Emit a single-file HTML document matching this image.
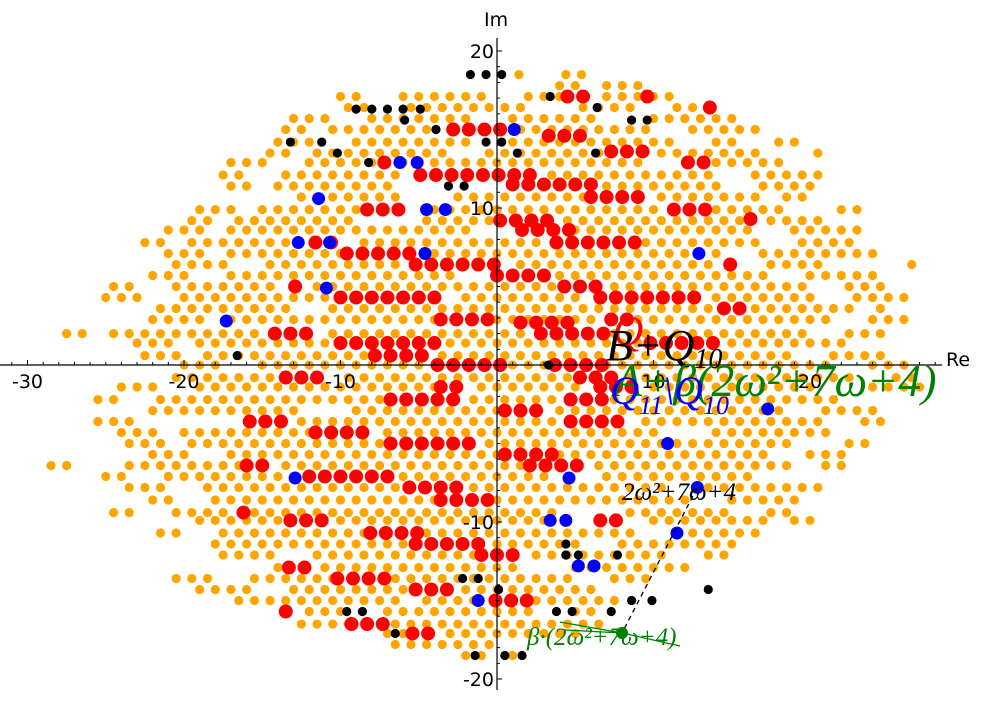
<!DOCTYPE html>
<html><head><meta charset="utf-8"><style>
html,body{margin:0;padding:0;background:#fff;}
svg{display:block;font-family:"DejaVu Sans","Liberation Sans",sans-serif;}
</style></head><body>
<svg id="chart" width="986" height="701" viewBox="0 0 986 701" style="position:absolute;left:0;top:0">
<g id="orange"></g>
<g id="red"></g>
<g id="blue"></g>
<g id="black"></g>
<g id="axes"></g>
</svg>
<script>
// orange row segments: [y, xmin, xmax]
const orangeRows=[
[18.5,1.4,1.4],[18.5,4.4,5.4],
[17.8,4,5],[17.8,7,9],
[17.1,-10,-9],[17.1,-6,-1],[17.1,2,4],[17.1,7,11],
[16.4,-9.5,-8.5],[16.4,-5.5,1.5],[16.4,5.5,8.5],[16.4,11.5,12.5],
[15.7,-13,-11],[15.7,-8,-2],[15.7,1,6],[15.7,10,15],
[15,-13.5,-12.5],[15,-10.5,-4.5],[15,1.5,9.5],[15,12.5,16.5],
[14.2,-14,-12],[14.2,-9,-2],[14.2,1,11],[14.2,14,15],[14.2,18,19],
[13.5,-14.5,-13.5],[13.5,-11.5,-3.5],[13.5,-0.5,6.5],[13.5,10.5,16.5],[13.5,20.5,20.5],
[12.9,-17,-15],[12.9,-12,-8],[12.9,-6,9],[12.9,14,18],
[12.1,-17.5,-16.5],[12.1,-13.5,-6.5],[12.1,3.5,13.5],[12.1,16.5,20.5],
[11.4,-17,-16],[11.4,-14,-7],[11.4,7,14],[11.4,17,20],
[10.7,-12.5,-6.5],[10.7,-2.5,5.5],[10.7,10.5,16.5],[10.7,18.5,19.5],
[9.9,-19,-17],[9.9,-15,-9],[9.9,-4,10],[9.9,14,18],[9.9,22,23],
[9.2,-19.5,-18.5],[9.2,-16.5,-9.5],[9.2,-4.5,-0.5],[9.2,4.5,15.5],[9.2,17.5,21],
[8.6,-21,-19],[8.6,-17,-2],[8.6,5,16],[8.6,19,23],
[7.8,-22.5,-21.5],[7.8,-19.5,-13.5],[7.8,-8.5,2.5],[7.8,9.5,16.5],[7.8,19.5,23],
[7.1,-21,-19],[7.1,-17,-10],[7.1,-4,14],[7.1,17,24],
[6.4,-20.5,-17.5],[6.4,-14.5,-6.5],[6.4,1.5,13.5],[6.4,17.5,20.5],[6.4,26.5,27],
[5.7,-22,-20],[5.7,-17,-3],[5.7,4,17],[5.7,20,24],
[5,-24.5,-23.5],[5,-20.5,-14.5],[5,-11.5,3.5],[5,7.5,19.5],[5,22.5,25],
[4.3,-25,-23],[4.3,-20,-11],[4.3,-2,5],[4.3,14,20],[4.3,23,26],
[3.6,-21.5,-13.5],[3.6,-10.5,13.5],[3.6,16.5,22.5],[3.6,24.5,25],
[2.9,-22,-19],[2.9,-17,-4],[2.9,0,6],[2.9,9,21],[2.9,24,26],
[2,-27.5,-26.5],[2,-24.5,-15.5],[2,-10.5,1.5],[2,7.5,19.5],[2,22.5,25],
[1.4,-23,-21],[1.4,-19,-11],[1.4,-3,9],[1.4,15,22],
[0.6,-22.5,-20.5],[0.6,-18.5,-8.5],[0.6,-3.5,18.5],[0.6,21.5,25],
[0,-20,-18],[0,-15,-5],[0,1,3],[0,7,21],[0,24,26],
[-0.8,-20.5,-14.5],[-0.8,-9.5,4.5],[-0.8,8.5,22.5],[-0.8,25.5,27],
[-1.4,-24,-22],[-1.4,-19,-4],[-1.4,-1,5],[-1.4,10,20],[-1.4,24,27],
[-2.2,-25.5,-24.5],[-2.2,-21.5,-7.5],[-2.2,-1.5,3.5],[-2.2,7.5,21.5],
[-2.9,-22,-13],[-2.9,-9,0],[-2.9,4,18],[-2.9,21,24],
[-3.6,-25.5,-23.5],[-3.6,-12.5,3.5],[-3.6,9.5,20.5],[-3.6,23.5,25],
[-4.3,-24,-22],[-4.3,-20,-12],[-4.3,-7,10],[-4.3,14,21],
[-5,-23.5,-21.5],[-5,-19.5,-7.5],[-5,-0.5,18.5],[-5,22.5,24],
[-5.7,-22,-20],[-5.7,-17,0],[-5.7,4,17],[-5.7,20,22],
[-6.4,-28.5,-27.5],[-6.4,-23.5,-16.5],[-6.4,-13.5,1.5],[-6.4,6.5,18.5],[-6.4,21,22],
[-7.1,-25,-24],[-7.1,-21,-12],[-7.1,-6,3],[-7.1,7,16],
[-7.8,-23.5,-21.5],[-7.8,-18.5,-6.5],[-7.8,-1.5,10.5],[-7.8,13.5,20.5],
[-8.6,-22,-21],[-8.6,-18,-4],[-8.6,0,12],[-8.6,15,19],
[-9.4,-24.5,-23.5],[-9.4,-20.5,-17.5],[-9.4,-15.5,3.5],[-9.4,8.5,14.5],[-9.4,17.5,18.5],
[-9.9,-19,-14],[-9.9,-10,3],[-9.9,10,17],[-9.9,19,20],
[-10.7,-21.5,-20.5],[-10.7,-17.5,-8.5],[-10.7,-4.5,8.5],[-10.7,11.5,16.5],
[-11.4,-18,-6],[-11.4,0,5],[-11.4,8,15],
[-12.1,-17.5,-14.5],[-12.1,-11.5,-1.5],[-12.1,2.5,10.5],[-12.1,13.5,14.5],
[-12.9,-14,-14],[-12.9,-11,1],[-12.9,5,12],
[-13.6,-20.5,-18.5],[-13.6,-15.5,-10.5],[-13.6,-6.5,4.5],[-13.6,7.5,9.5],
[-14.3,-19,-16],[-14.3,-13,-6],[-14.3,-2,6],
[-15,-16.5,-6.5],[-15,-4.5,-1.5],[-15,2.5,7.5],
[-15.7,-12,-10],[-15.7,-7,2],[-15.7,5,6],
[-16.5,-12.5,-9.5],[-16.5,-6.5,6.5],
[-17.1,-7,-6],[-17.1,-3,5],
[-17.8,-6.5,-0.5],
[-18.5,-2,-1],[-18.5,1,1]];
// red rows: [y, xmin, xmax]
const redRows=[[17.1,4.5,5.5],[17.1,9.6,9.6],[16.4,13.6,13.6],[15,-2.8,0.2],[14.6,3.3,5.3],[13.6,7.3,9.3],[12.9,-7.2,-7.2],[12.9,12.2,13.2],[12.1,-4.9,2.7],[11.5,1,6.6],[10.7,6,9.1],[9.9,-8.3,-5.4],[9.9,11.3,13.3],[9.3,16.2,16.2],[9.2,0.2,3.2],[8.6,1.6,4.7],[7.8,-11.6,-9.7],[7.8,3.8,8.8],[7.1,-9.6,-5.2],[6.4,-5.2,0.2],[6.4,14.9,15.8],[5.7,0,3.7],[5,-12.9,-12.9],[5,4.3,6.6],[4.3,-10,-3.6],[4.3,6.6,13],[3.6,14.5,15.5],[2.9,-3.6,-0.4],[2.9,7.3,8.3],[2.7,1.5,4.5],[2,-14.2,-11.3],[2,2.8,6.8],[1.4,-10,-3.6],[1.4,9.8,14.3],[0.6,-7.8,-4.3],[0,-3.8,0.2],[0,3.7,6.7],[-0.8,-13.5,-10.7],[-0.8,5.3,7.8],[-1.4,-3.6,-2.4],[-1.4,6.6,9.1],[-2.2,-6.8,-2.4],[-2.2,4.7,6.7],[-2.9,0.5,3.4],[-3.6,-15.8,-13.5],[-3.6,4.7,8.5],[-4.3,-11.6,-8.4],[-5,-6.8,-1.4],[-5.7,0.5,3.7],[-6.4,-16,-14.8],[-6.4,2.1,5.3],[-7.1,-12,-6.8],[-7.8,-5.6,-2.4],[-8.6,-3.6,-0.4],[-9.4,-16.2,-16.2],[-9.9,-13.2,-11],[-9.9,6.6,8.5],[-10.7,-8.1,-4.9],[-11.4,-5.2,-0.4],[-12.1,-1,1.5],[-12.9,-13.3,-12.3],[-13.6,-10.2,-7.2],[-14.3,-5.2,-2.4],[-15,-0.1,2.1],[-15.7,-13.5,-13.5],[-16.5,-9.3,-7.2],[-17.1,-5.4,-3.5]];
const blueX=[1.1,-6.2,-5.1,-11.4,-4.5,-3.3,-12.7,-10.7,-4.6,12.9,-10.9,-17.3,17.3,10.9,4.6,-12.9,12.8,11.5,3.4,4.4,5.2,6.2,-1.2];
const blueY=[15,12.9,12.9,10.6,9.9,9.9,7.8,7.8,7.1,7.1,4.9,2.8,-2.8,-5,-7.2,-7.2,-7.8,-10.7,-9.9,-9.9,-12.8,-12.8,-15];
const blackX=[-1.7,-0.7,0.3,3.4,6.4,-9,-8,-7,-6,-4.9,-5.9,8.6,9.6,-3.9,-13.2,-11.2,-0.7,0.3,-10.2,1.3,6.3,-8.2,-3.1,-2.1,-16.6,3.3,4.4,4.4,5.2,7.7,-2.2,-1.2,0.1,13.5,9.9,8.6,-9.6,-8.6,3.8,4.8,7.3,-1.4,0.5,1.6,-6.5];
const blackY=[18.5,18.5,18.5,17.1,16.4,16.3,16.3,16.3,16.3,16.3,15.6,15.6,15.6,15,14.2,14.2,14.2,14.2,13.5,13.5,13.5,12.9,11.4,11.4,0.6,0,-11.4,-12.1,-12.1,-12.1,-13.6,-13.6,-14.3,-14.3,-15,-15,-15.7,-15.7,-15.7,-15.7,-15.7,-18.5,-18.5,-18.5,-17.1];
const xTicks=[-30,-20,-10,10,20];
const yTicks=[20,10,-10,-20];

const NS="http://www.w3.org/2000/svg";
const X0=497,Y0=365,SX=15.65,SY=15.7;
const sx=v=>X0+v*SX, sy=v=>Y0-v*SY;
function mk(tag,parent,attrs){const e=document.createElementNS(NS,tag);for(const k in attrs)e.setAttribute(k,attrs[k]);parent.appendChild(e);return e;}
const gO=document.getElementById('orange'),gR=document.getElementById('red'),gB=document.getElementById('blue'),gK=document.getElementById('black'),gA=document.getElementById('axes');
orangeRows.forEach(r=>{for(let x=r[1];x<=r[2]+0.01;x+=1){const c=mk('circle',gO,{cx:sx(x),cy:sy(r[0]),r:4.6,fill:'#ffa500'});

}});
redRows.forEach(r=>{for(let x=r[1];x<=r[2]+0.01;x+=1){const c=mk('circle',gR,{cx:sx(x),cy:sy(r[0]),r:7,fill:'#ff0000'});

}});
blueX.forEach((x,i)=>{const c=mk('circle',gB,{cx:sx(x),cy:sy(blueY[i]),r:6.5,fill:'#0000ff'});

});
blackX.forEach((x,i)=>{const c=mk('circle',gK,{cx:sx(x),cy:sy(blackY[i]),r:4.6,fill:'#000'});

});
let l=mk('line',gA,{x1:0,y1:Y0,x2:942,y2:Y0,stroke:'#000','stroke-width':1.2});


l=mk('line',gA,{x1:X0,y1:38,x2:X0,y2:690,stroke:'#000','stroke-width':1.2});


for(let v=-31;v<=28;v++){mk('line',gA,{x1:sx(v),y1:Y0,x2:sx(v),y2:Y0-(v%10===0?5:3),stroke:'#000','stroke-width':1});}
for(let v=-20;v<=20;v++){mk('line',gA,{x1:X0,y1:sy(v),x2:X0+(v%10===0?5:3),y2:sy(v),stroke:'#000','stroke-width':1});}
xTicks.forEach(v=>{const t=mk('text',gA,{x:sx(v),y:388,'text-anchor':'middle','font-size':19});t.textContent=v;

});
yTicks.forEach(v=>{const t=mk('text',gA,{x:X0-3,y:sy(v)+7,'text-anchor':'end','font-size':19});t.textContent=v;

});
</script>
<svg style="position:absolute;left:0;top:0" width="986" height="701">
<text x="946" y="366" font-size="19" font-family="DejaVu Sans,sans-serif">Re</text>
<text x="484" y="26" font-size="19" font-family="DejaVu Sans,sans-serif">Im</text>
<line x1="697" y1="488" x2="622" y2="633" stroke="#000" stroke-width="1.3" stroke-dasharray="5,4"/>
<circle cx="622" cy="633" r="6" fill="#008000"/>
<path d="M560,622 L622,633 L680,646 M622,633 L565,630" stroke="#008000" stroke-width="1.2" fill="none"/>
<text x="613" y="345" font-size="42" fill="#ff0000" font-family="Liberation Serif,serif" font-style="italic">Q</text>
<text x="606" y="360" font-size="44" fill="#000" font-family="Liberation Serif,serif" font-style="italic">B+Q<tspan font-size="28" dy="8">10</tspan></text>
<text x="614" y="396" font-size="46" fill="#008000" font-family="Liberation Serif,serif" font-style="italic">A+β(2ω²+7ω+4)</text>
<text x="610" y="404" font-size="40" fill="#0000ff" font-family="Liberation Serif,serif" font-style="italic">Q<tspan font-size="26" dy="10">11</tspan><tspan dy="-10">\Q</tspan><tspan font-size="26" dy="10">10</tspan></text>
<text x="622" y="500" font-size="25" fill="#000" font-family="Liberation Serif,serif" font-style="italic">2ω²+7ω+4</text>
<text x="527" y="645" font-size="25" fill="#008000" font-family="Liberation Serif,serif" font-style="italic">β·(2ω²+7ω+4)</text>
</svg>
</body></html>
